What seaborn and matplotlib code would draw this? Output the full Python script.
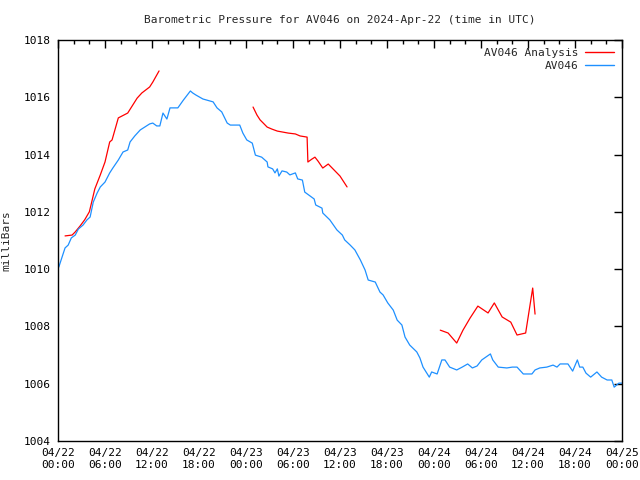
import numpy as np
import pandas as pd
import seaborn as sns
import matplotlib
matplotlib.use('Agg')
import matplotlib.pyplot as plt
from matplotlib.ticker import MultipleLocator
from matplotlib.lines import Line2D

# hours since 2024-04-22 00:00 UTC and pressure in mb
station_hours = [0.1, 0.6, 0.9, 1.3, 1.7, 2.2, 2.6, 3.2, 3.7, 4.1, 4.5, 5.0, 5.4, 6.0,
                 6.6, 7.0, 7.7, 8.3, 8.9, 9.2, 9.8, 10.5, 10.9, 11.7, 12.1, 12.6, 13.0,
                 13.4, 13.9, 14.3, 15.3, 16.0, 16.9, 17.2, 17.6, 18.5, 19.8, 20.3, 20.9,
                 21.6, 22.0, 23.2, 23.6, 24.1, 24.8, 25.2, 26.0, 26.7, 26.8, 27.4, 27.7,
                 28.0, 28.2, 28.6, 29.2, 29.6, 30.3, 30.6, 31.2, 31.5, 32.2, 32.7, 32.9,
                 33.7, 33.8, 34.7, 35.6, 36.3, 36.6, 37.3, 37.9, 38.6, 39.2, 39.6, 40.5,
                 41.1, 41.5, 42.1, 42.8, 43.3, 43.9, 44.3, 44.9, 45.8, 46.2, 46.6, 47.4,
                 47.7, 48.4, 49.0, 49.4, 50.0, 50.9, 51.6, 52.3, 52.9, 53.5, 54.1, 55.2,
                 55.5, 56.2, 57.3, 58.0, 58.6, 59.4, 60.5, 60.9, 61.5, 62.4, 63.2, 63.7,
                 64.1, 65.1, 65.7, 66.3, 66.6, 67.0, 67.4, 68.0, 68.8, 69.4, 70.1, 70.7,
                 71.0, 71.6, 72.0]
station_mb = [1010.07, 1010.49, 1010.74, 1010.84, 1011.09, 1011.19, 1011.40, 1011.54,
              1011.72, 1011.82, 1012.34, 1012.66, 1012.87, 1013.04, 1013.36, 1013.53,
              1013.81, 1014.09, 1014.16, 1014.44, 1014.65, 1014.86, 1014.93, 1015.07,
              1015.10, 1015.00, 1015.00, 1015.45, 1015.24, 1015.63, 1015.63, 1015.90,
              1016.22, 1016.15, 1016.08, 1015.94, 1015.84, 1015.63, 1015.49, 1015.10,
              1015.03, 1015.03, 1014.75, 1014.51, 1014.40, 1013.98, 1013.91, 1013.74,
              1013.57, 1013.50, 1013.36, 1013.50, 1013.25, 1013.43, 1013.39, 1013.29,
              1013.36, 1013.15, 1013.11, 1012.69, 1012.55, 1012.45, 1012.24, 1012.13,
              1011.96, 1011.72, 1011.37, 1011.19, 1011.02, 1010.84, 1010.67, 1010.32,
              1009.97, 1009.62, 1009.55, 1009.20, 1009.10, 1008.82, 1008.57, 1008.22,
              1008.05, 1007.63, 1007.35, 1007.11, 1006.90, 1006.58, 1006.23, 1006.41,
              1006.34, 1006.83, 1006.83, 1006.58, 1006.48, 1006.58, 1006.69, 1006.55,
              1006.62, 1006.83, 1007.04, 1006.83, 1006.58, 1006.55, 1006.58, 1006.58,
              1006.34, 1006.34, 1006.48, 1006.55, 1006.58, 1006.65, 1006.58, 1006.69,
              1006.69, 1006.44, 1006.83, 1006.58, 1006.58, 1006.37, 1006.23, 1006.41,
              1006.23, 1006.13, 1006.13, 1005.88, 1006.02, 1006.02]

# analysis has three separate runs
analysis_hours = [0.9, 1.8, 2.2, 2.8, 3.4, 4.0, 4.3, 4.7, 5.4, 6.0, 6.6, 6.9, 7.7, 8.9,
                  10.1, 10.7, 11.7, 12.1, 12.9,
                  24.9, 25.4, 25.8, 26.2, 26.7, 27.3, 28.0, 28.6, 29.4, 30.3, 30.9, 31.8,
                  31.9, 32.4, 32.8, 33.2, 33.8, 34.5, 35.0, 36.0, 36.9,
                  48.8, 49.8, 50.9, 51.7, 52.6, 53.6, 54.9, 55.7, 56.7, 57.8, 58.6, 59.7,
                  60.3, 60.6, 60.9]
analysis_mb = [1011.16, 1011.19, 1011.30, 1011.50, 1011.72, 1012.00, 1012.34, 1012.80,
               1013.29, 1013.74, 1014.44, 1014.51, 1015.28, 1015.45, 1015.97, 1016.15,
               1016.36, 1016.53, 1016.92,
               1015.66, 1015.38, 1015.21, 1015.10, 1014.96, 1014.89, 1014.82, 1014.79,
               1014.75, 1014.72, 1014.65, 1014.61, 1013.74, 1013.84, 1013.91, 1013.77,
               1013.53, 1013.67, 1013.53, 1013.25, 1012.87,
               1007.87, 1007.77, 1007.42, 1007.87, 1008.29, 1008.71, 1008.47, 1008.82,
               1008.33, 1008.15, 1007.70, 1007.77, 1008.82, 1009.34, 1008.43]
analysis_run = [0] * 19 + [1] * 21 + [2] * 15

xtick_labels = ['04/22\n00:00', '04/22\n06:00', '04/22\n12:00', '04/22\n18:00',
                '04/23\n00:00', '04/23\n06:00', '04/23\n12:00', '04/23\n18:00',
                '04/24\n00:00', '04/24\n06:00', '04/24\n12:00', '04/24\n18:00',
                '04/25\n00:00']

sns.set_style('white')
plt.rcParams['font.family'] = ['DejaVu Sans Mono']
plt.rcParams['font.size'] = 8

station = pd.DataFrame({'hour': station_hours, 'mb': station_mb})
analysis = pd.DataFrame({'hour': analysis_hours, 'mb': analysis_mb, 'run': analysis_run})

red = '#ff0000'
blue = '#1e90ff'

fig = plt.figure(figsize=(6.4, 4.8), dpi=100)
ax = fig.add_axes([58 / 640, 39 / 480, 564 / 640, 401 / 480])

sns.lineplot(data=analysis, x='hour', y='mb', units='run', estimator=None,
             color=red, lw=0.9, ax=ax, legend=False)
sns.lineplot(data=station, x='hour', y='mb', color=blue, lw=0.9, ax=ax, legend=False)

ax.set_xlim(0, 72)
ax.set_ylim(1004, 1018)
ax.set_xticks(range(0, 73, 6))
ax.set_xticklabels(xtick_labels)
ax.xaxis.set_minor_locator(MultipleLocator(2))
ax.set_yticks(range(1004, 1019, 2))
ax.tick_params(which='both', direction='in', top=True, right=True, color='black', width=1,
               labelsize=8, colors='black')
ax.tick_params(which='major', length=6, pad=5)
ax.tick_params(which='minor', length=3)
for s in ax.spines.values():
    s.set_color('black')
    s.set_linewidth(1)

ax.set_xlabel('')
ax.set_ylabel('milliBars', fontsize=8)
ax.yaxis.set_label_coords(-0.083, 0.5)
fig.text(340 / 640, 1 - 20 / 480, 'Barometric Pressure for AV046 on 2024-Apr-22 (time in UTC)',
         ha='center', va='center', fontsize=8)

handles = [Line2D([], [], color=red, lw=1), Line2D([], [], color=blue, lw=1)]
ax.legend(handles, ['AV046 Analysis', 'AV046'], loc='upper right', frameon=False,
          markerfirst=False, handlelength=2.6, handletextpad=0.6, borderaxespad=0.3,
          labelspacing=0.25, fontsize=8)

fig.savefig('out.png', dpi=100)
